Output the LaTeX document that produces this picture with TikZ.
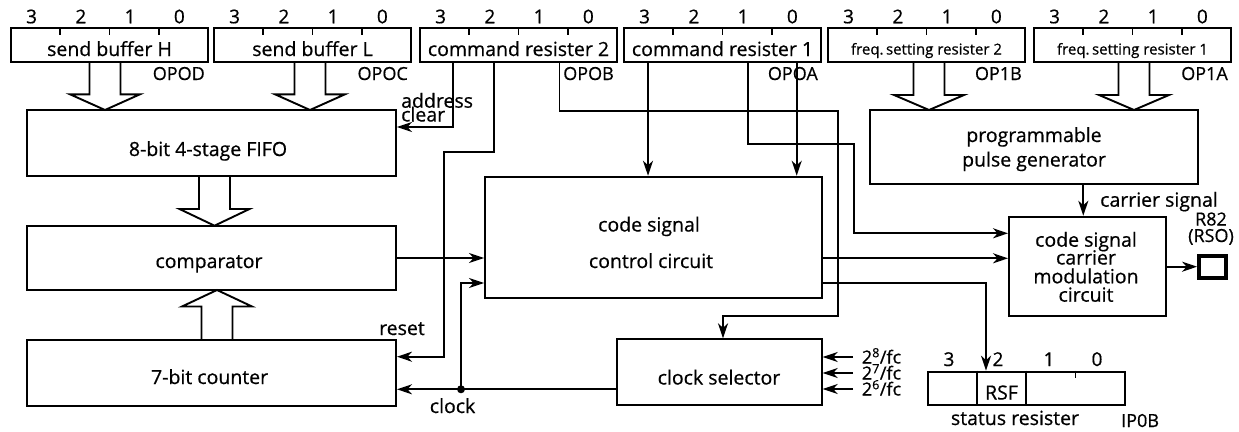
\documentclass[tikz,border=0pt]{standalone}
\usepackage{fontspec}
\setmainfont{Open Sans}[FakeBold=0.6]
\usetikzlibrary{arrows.meta,calc}
\newcommand\bx[5]{\node[blk,minimum width={(#4)-(#2)},minimum height={(#5)-(#3)}] (#1) at ({((#2)+(#4))/2},{((#3)+(#5))/2}) {};}
\newcommand\fat[4]{\draw[wire,line join=miter] ({#1-15.5},#2) -- ({#1-15.5},#3) -- ({#1-35},#3) -- (#1,#4) -- ({#1+35},#3) -- ({#1+15.5},#3) -- ({#1+15.5},#2);}
\newcommand\reg[5]{%
  \bx{#1}{#2}{28}{#2+197}{62}
  \foreach \k/\b in {0/3,1/2,2/1,3/0} \node[num] (#1b\k) at ({#2+49.25*\k+20.6},23.3) {\b};
  \foreach \k in {1,2,3} \draw[wire] ({#2+49.25*\k},0 |- #1.north) -- ++(0,8);
  \node[txt,#5] (#1t) at ({#2+98.5},56) {#3};
  \node[lbl] (#1l) at ({#2+194},80) {#4};
}
\begin{document}
\begin{tikzpicture}[x=1pt,y=-1pt,
  blk/.style={draw,line width=1.9pt,rectangle,inner sep=0pt},
  wire/.style={line width=1.9pt},
  arr/.style={wire,-{Stealth[length=15pt,width=10pt,inset=4.5pt]}},
  txt/.style={font=\fontsize{19.5}{21}\selectfont,inner sep=0pt,anchor=base},
  small/.style={font=\fontsize{15}{17}\selectfont},
  num/.style={font=\fontsize{19}{21}\selectfont,inner sep=0pt,anchor=base},
  lbl/.style={font=\fontsize{18}{20}\selectfont,inner sep=0pt,anchor=base east},
  fcl/.style={font=\fontsize{18}{20}\selectfont,inner sep=0pt,anchor=base west},
  dot/.style={circle,fill,inner sep=0pt,minimum size=8pt}]
\useasboundingbox (0,0) rectangle (1239,431);
% registers
\reg{r1}{11}{send buffer H}{OPOD}{}
\reg{r2}{214}{send buffer L}{OPOC}{}
\reg{r3}{420}{command resister 2}{OPOB}{}
\reg{r4}{624}{command resister 1}{OPOA}{}
\reg{r5}{828}{freq.\,setting resister 2}{OP1B}{small,yshift=1.5pt}
\reg{r6}{1034}{freq.\,setting resister 1}{OP1A}{small,yshift=1.5pt}
% blocks
\bx{fifo}{26.7}{110}{396}{176}
\node[txt] (tfifo) at (208,156) {8-bit 4-stage FIFO};
\bx{comp}{26.7}{225.7}{396}{290}
\node[txt] (tcomp) at (209,268) {comparator};
\bx{cnt}{26.7}{340}{396}{405.7}
\node[txt] (tcnt) at (209.6,384) {7-bit counter};
\bx{ctrl}{485}{176.7}{821.7}{298}
\node[txt] (tctrl1) at (649,231.5) {code signal};
\node[txt] (tctrl2) at (651,268) {control circuit};
\bx{pg}{870}{110}{1198}{184}
\node[txt] (tpg1) at (1034,142) {programmable};
\node[txt] (tpg2) at (1034,166.5) {pulse generator};
\bx{mod}{1009}{216.7}{1166}{316}
\node[txt] (tm1) at (1086,246.7) {code signal};
\node[txt] (tm2) at (1086,264.5) {carrier};
\node[txt] (tm3) at (1086,283.3) {modulation};
\node[txt] (tm4) at (1086,301.7) {circuit};
\bx{csel}{617}{339.3}{821.7}{404.6}
\node[txt] (tcsel) at (719,384.5) {clock selector};
% status register
\bx{sr}{928}{371.6}{1125}{404.6}
\draw[wire] (977,0 |- sr.north) -- (977,0 |- sr.south);
\draw[wire] (1026.2,0 |- sr.north) -- (1026.2,0 |- sr.south);
\draw[wire] (1075.5,0 |- sr.north) -- ++(0,7);
\node[txt] (trsf) at (1001.5,399.5) {RSF};
\node[num] (sb3) at (949,366) {3};
\node[num] (sb2) at (998,366) {2};
\node[num] (sb1) at (1049,366) {1};
\node[num] (sb0) at (1097,366) {0};
\node[txt] (tsr) at (1015,425) {status resister};
\node[txt,anchor=base west,font=\fontsize{18}{20}\selectfont] (tip0b) at (1121,427) {IP0B};
% output pin
\node[draw,line width=3.8pt,minimum width=27pt,minimum height=22pt,inner sep=0pt] (sq) at (1212.5,267) {};
\node[txt,font=\fontsize{18}{20}\selectfont] (tr82) at (1211,225.5) {R82};
\node[txt,font=\fontsize{18}{20}\selectfont] (trso) at (1211,242) {(RSO)};
\node[txt,anchor=base west] (tcar) at (1100,206.7) {carrier signal};
% fat arrows
\fat{105}{62}{94.3}{110}
\fat{310}{62}{94.3}{110}
\fat{929}{62}{95}{110}
\fat{1134}{62}{95}{110}
\fat{214.5}{176}{209}{225.7}
\fat{217}{340}{306.5}{290}
% wires
\draw[arr] (452.7,0 |- r3.south) |- (fifo.east |- 0,127);
\node[txt,anchor=base west] (tadr) at (401,107.7) {address};
\node[txt,anchor=base west] (tclr) at (401,121.5) {clear};
\draw[arr] (494,0 |- r3.south) |- (444,152) |- (cnt.east |- 0,356.7);
\node[txt] (treset) at (402,335) {reset};
\draw[arr] (559.5,0 |- r3.south) |- (838,110.7) |- (723,316) -- (723,0 |- csel.north);
\draw[arr] (648,0 |- r4.south) -- (648,0 |- ctrl.north);
\draw[arr] (748,0 |- r4.south) |- (854,144) |- (mod.west |- 0,233.3);
\draw[arr] (796.7,0 |- r4.south) -- (796.7,0 |- ctrl.north);
\draw[arr] (comp.east |- 0,258) -- (ctrl.west |- 0,258);
\node[dot] (dt) at (461,389.3) {};
\draw[arr] (csel.west |- 0,389.3) -- (cnt.east |- 0,389.3);
\draw[arr] (dt.center) |- (ctrl.west |- 0,283);
\node[txt] (tclock) at (452.6,413) {clock};
\draw[arr] (ctrl.east |- 0,258.3) -- (mod.west |- 0,258.3);
\draw[arr] (ctrl.east |- 0,283) -| (986,0 |- sr.north);
\draw[arr] (1083.3,0 |- pg.south) -- (1083.3,0 |- mod.north);
\draw[arr] (mod.east |- 0,266.7) -- (sq.west |- 0,266.7);
\foreach \yy/\e in {357/8,373/7,389/6} {
  \coordinate (in\e) at (853,\yy);
  \draw[arr] (in\e) -- (csel.east |- in\e);
  \node[fcl] (tf\e) at (861.7,\yy+6.5) {2\textsuperscript{\e}/fc};
}
\end{tikzpicture}
\end{document}
